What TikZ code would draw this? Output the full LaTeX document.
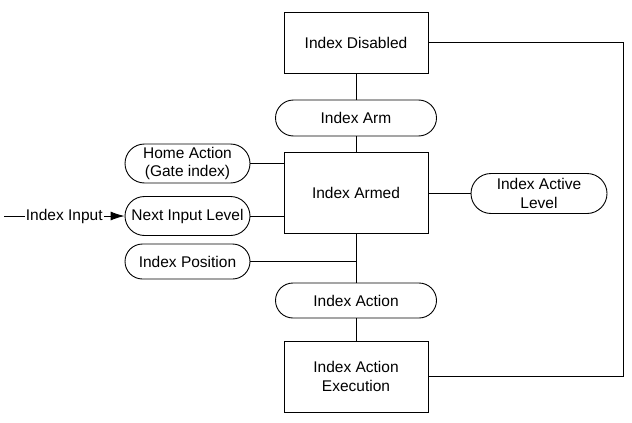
\documentclass[tikz,border=0pt]{standalone}
\usepackage{fontspec}
\setmainfont{Liberation Sans}
\usetikzlibrary{shapes.misc,arrows.meta}
\begin{document}
\begin{tikzpicture}[x=1pt,y=-1pt,
  every node/.style={font=\fontsize{15.5}{18.5}\selectfont, align=center, inner sep=0pt},
  box/.style={draw, rectangle, line width=0.9pt, minimum width=144pt},
  term/.style={draw, rounded rectangle, line width=0.9pt},
  conn/.style={line width=0.9pt}]
\useasboundingbox (0,0) rectangle (632,423);
\node[box, minimum height=61pt] (dis) at (356,42.5) {Index Disabled};
\node[term, minimum width=161pt, minimum height=36pt] (arm) at (356,118) {Index Arm};
\node[box, minimum height=81pt] (armed) at (356,192.5) {Index Armed};
\node[term, minimum width=161pt, minimum height=35pt] (act) at (356,300.5) {Index Action};
\node[box, minimum height=71pt] (exe) at (356,376.5) {Index Action\\Execution};
\node[term, minimum width=125pt, minimum height=39pt] (home) at (187.5,163.5) {Home Action\\(Gate index)};
\node[term, minimum width=125pt, minimum height=39pt] (nil) at (187.5,216) {Next Input Level};
\node[term, minimum width=125pt, minimum height=35pt] (pos) at (187.5,261.5) {Index Position};
\node[term, minimum width=136pt, minimum height=40pt] (actv) at (539,193.5) {Index Active\\Level};
\coordinate (rt) at (623,42.5);
\coordinate (in) at (4,216);
\draw[conn] (dis.south) -- (arm.north);
\draw[conn] (arm.south) -- (armed.north);
\draw[conn] (armed.south) -- (act.north);
\draw[conn] (act.south) -- (exe.north);
\draw[conn] (dis.east) -- (rt) |- (exe.east);
\draw[conn] (home.east) -- (home.east -| armed.west);
\draw[conn] (nil.east) -- (nil.east -| armed.west);
\draw[conn] (pos.east) -- (pos.east -| armed.south);
\draw[conn] (armed.east |- actv.west) -- (actv.west);
\draw[conn, -{Latex[length=14pt,width=9pt]}] (in) -- node[fill=white, inner sep=1pt, pos=0.5] (lbl) {Index Input} (nil.west);
\end{tikzpicture}
\end{document}
